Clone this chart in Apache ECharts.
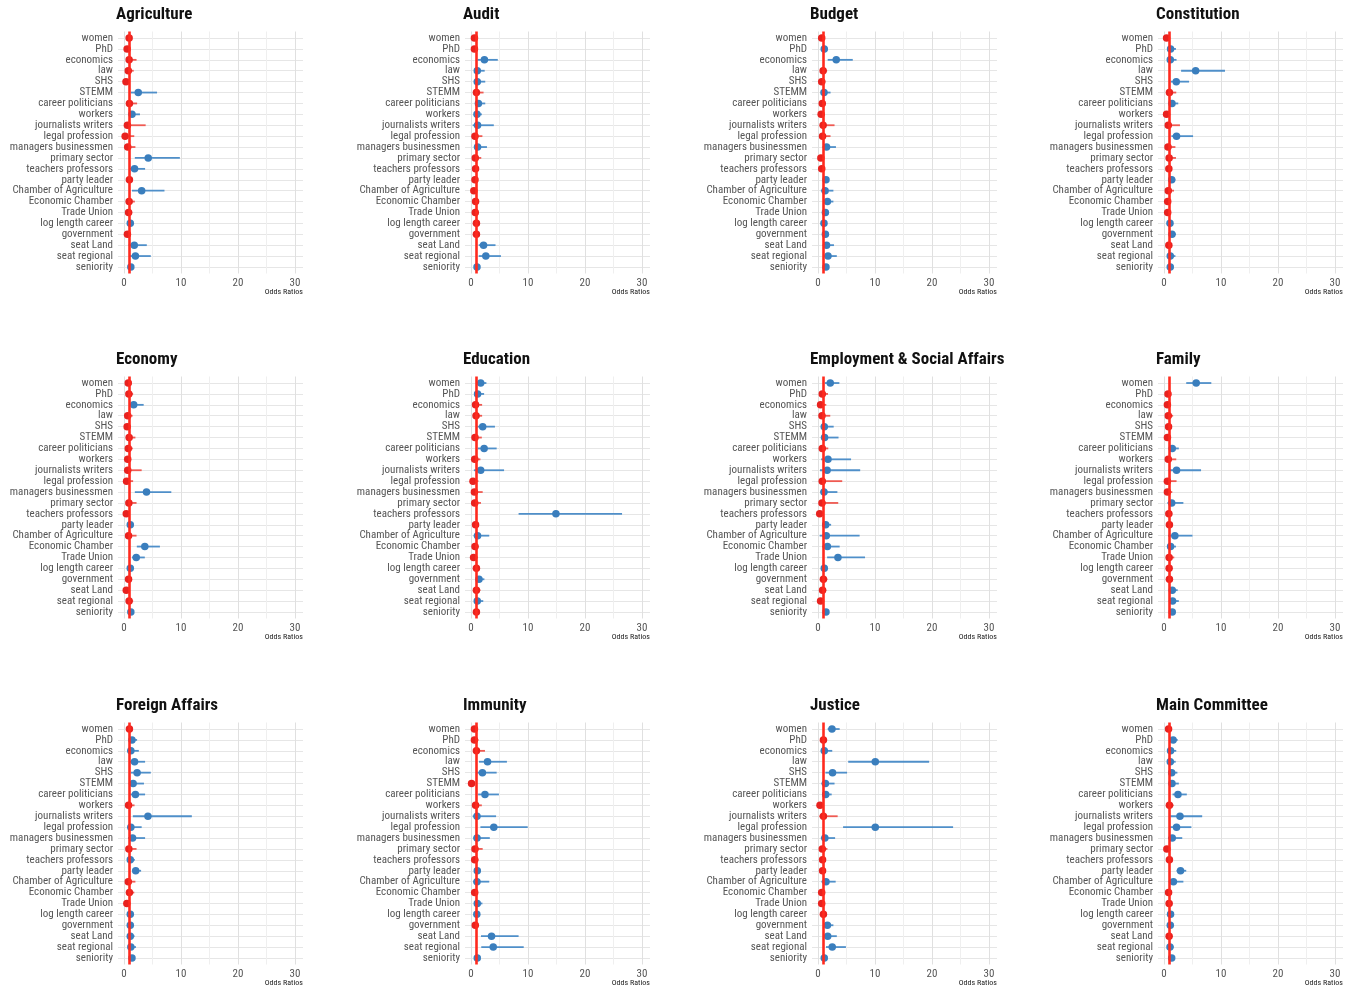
<!DOCTYPE html>
<html><head><meta charset="utf-8">
<script src="https://cdn.jsdelivr.net/npm/echarts@6/dist/echarts.min.js"></script>
<style>html,body{margin:0;padding:0;background:#fff}#c{width:1346px;height:990px}</style>
</head><body><div id="c"></div>
<script>
const categories = ['women','PhD','economics','law','SHS','STEMM','career politicians','workers','journalists writers','legal profession','managers businessmen','primary sector','teachers professors','party leader','Chamber of Agriculture','Economic Chamber','Trade Union','log length career','government','seat Land','seat regional','seniority'];
const panelTitles = ['Agriculture','Audit','Budget','Constitution','Economy','Education','Employment & Social Affairs','Family','Foreign Affairs','Immunity','Justice','Main Committee'];
const xTickLabels = [0,10,20,30];
const xGridValues = [0,5,10,15,20,25,30];
const referenceValue = 1;
const xAxisName = 'Odds Ratios';

// each row: [odds ratio, lower CI, upper CI], in category order
const agriculture = [[0.9,0.6,1.4],[0.55,0.3,1.0],[0.9,0.4,2.2],[0.75,0.35,1.7],[0.35,0.15,0.95],[2.5,1.2,5.8],[0.95,0.45,2.3],[1.4,0.8,2.8],[0.6,0.1,3.8],[0.2,0.05,1.8],[0.65,0.2,2.0],[4.25,1.9,9.8],[1.85,1.0,3.7],[0.95,0.65,1.3],[3.1,1.4,7.1],[0.9,0.45,1.9],[0.8,0.45,1.45],[1.1,0.9,1.3],[0.6,0.3,1.2],[1.8,0.8,4.0],[2.0,0.9,4.7],[1.2,1.0,1.5]];
const audit = [[0.6,0.35,1.0],[0.6,0.35,1.05],[2.35,1.15,4.7],[1.1,0.55,2.4],[1.1,0.5,2.5],[0.95,0.4,2.2],[1.3,0.7,2.5],[1.05,0.6,1.9],[1.15,0.3,4.0],[0.7,0.25,2.0],[1.15,0.5,2.8],[0.75,0.3,1.8],[0.8,0.5,1.25],[0.7,0.45,1.1],[0.5,0.25,1.0],[0.8,0.5,1.3],[0.75,0.45,1.25],[0.95,0.8,1.15],[0.95,0.6,1.4],[2.2,1.35,4.3],[2.6,1.35,5.25],[1.05,0.9,1.25]];
const budget = [[0.65,0.4,1.05],[1.1,0.7,1.7],[3.2,1.7,6.1],[0.9,0.5,1.6],[0.65,0.3,1.3],[1.05,0.5,2.2],[0.75,0.4,1.3],[0.55,0.3,1.1],[0.9,0.3,2.9],[0.8,0.3,2.2],[1.5,0.8,3.15],[0.5,0.25,1.0],[0.65,0.4,1.05],[1.4,1.05,1.9],[1.25,0.5,2.7],[1.65,1.05,2.7],[1.3,0.9,1.9],[1.05,0.85,1.3],[1.3,0.9,1.8],[1.5,0.85,2.8],[1.75,1.0,3.3],[1.4,1.1,1.7]];
const constitution = [[0.45,0.2,1.05],[1.15,0.6,2.1],[1.1,0.55,2.2],[5.55,3.0,10.7],[2.15,1.2,4.4],[0.95,0.45,2.15],[1.4,0.8,2.5],[0.45,0.2,1.0],[0.75,0.2,2.8],[2.2,1.3,5.1],[0.7,0.25,2.0],[0.9,0.4,2.1],[0.85,0.5,1.4],[1.35,0.9,2.0],[0.75,0.3,1.75],[0.65,0.35,1.2],[0.65,0.35,1.2],[1.05,0.85,1.3],[1.4,0.9,2.1],[0.85,0.5,1.4],[1.1,0.6,2.0],[1.1,0.9,1.35]];
const economy = [[0.75,0.45,1.2],[0.85,0.45,1.6],[1.7,0.9,3.45],[0.65,0.3,1.5],[0.55,0.25,1.2],[0.9,0.4,2.0],[0.75,0.4,1.55],[0.65,0.35,1.2],[0.65,0.15,3.1],[0.45,0.15,1.6],[3.95,1.9,8.3],[0.85,0.35,2.2],[0.4,0.15,1.05],[1.1,0.8,1.5],[0.8,0.3,2.2],[3.65,2.25,6.3],[2.15,1.4,3.65],[1.1,0.9,1.35],[0.8,0.45,1.4],[0.4,0.15,1.0],[0.9,0.5,1.6],[1.2,0.85,1.75]];
const education = [[1.7,1.1,2.7],[1.15,0.6,2.3],[0.8,0.35,1.95],[0.88,0.4,1.95],[2.05,1.1,4.2],[0.7,0.25,1.9],[2.3,1.2,4.5],[0.65,0.25,1.65],[1.7,0.5,5.8],[0.35,0.1,1.3],[0.6,0.2,2.05],[0.65,0.25,1.75],[14.9,8.35,26.5],[0.8,0.55,1.15],[1.15,0.45,3.2],[0.7,0.35,1.35],[0.45,0.15,1.2],[0.95,0.8,1.15],[1.4,0.85,2.35],[0.95,0.55,1.65],[1.1,0.55,2.15],[0.95,0.75,1.2]];
const employment = [[2.15,1.2,3.75],[0.75,0.3,1.75],[0.45,0.15,1.45],[0.7,0.25,2.15],[1.1,0.5,2.75],[1.15,0.5,3.6],[0.75,0.3,1.8],[1.75,0.55,5.8],[1.6,0.35,7.4],[0.75,0.15,4.25],[1.05,0.4,3.4],[0.7,0.15,3.55],[0.3,0.1,0.9],[1.35,0.8,2.3],[1.45,0.3,7.3],[1.65,0.7,3.8],[3.5,1.6,8.25],[1.1,0.85,1.4],[0.95,0.55,1.65],[0.8,0.45,1.45],[0.45,0.2,1.0],[1.4,1.1,1.8]];
const family = [[5.65,3.9,8.3],[0.7,0.4,1.2],[0.6,0.3,1.15],[0.75,0.35,1.6],[0.8,0.45,1.4],[0.6,0.3,1.2],[1.45,0.8,2.6],[0.75,0.25,2.15],[2.2,0.8,6.5],[0.6,0.15,2.2],[0.6,0.25,1.45],[1.35,0.6,3.4],[0.85,0.5,1.45],[0.95,0.65,1.4],[1.9,0.7,5.0],[1.15,0.6,2.1],[0.9,0.45,1.8],[0.9,0.75,1.1],[0.95,0.6,1.45],[1.45,0.85,2.4],[1.5,0.85,2.6],[1.45,1.1,1.9]];
const foreignAffairs = [[0.95,0.65,1.4],[1.4,0.8,2.3],[1.2,0.55,2.6],[1.85,1.0,3.7],[2.3,1.2,4.7],[1.6,0.8,3.5],[2.0,1.1,3.7],[0.8,0.35,1.85],[4.2,1.55,11.9],[1.2,0.6,3.1],[1.5,0.7,3.7],[0.85,0.35,2.2],[1.1,0.6,1.9],[2.05,1.45,3.0],[0.75,0.3,2.0],[0.95,0.5,1.8],[0.5,0.2,1.0],[1.1,0.9,1.35],[1.1,0.75,1.6],[1.1,0.65,1.85],[1.2,0.7,2.1],[1.4,1.05,1.85]];
const immunity = [[0.6,0.35,1.05],[0.6,0.3,1.3],[0.95,0.4,2.45],[2.9,1.4,6.3],[2.0,0.95,4.5],[0.1,0.02,0.5],[2.45,1.25,4.9],[0.8,0.35,1.9],[1.05,0.3,4.4],[4.0,1.65,9.95],[1.05,0.4,3.3],[0.7,0.25,2.05],[0.65,0.3,1.3],[1.1,0.7,1.7],[1.05,0.4,3.2],[0.65,0.35,1.2],[1.1,0.6,2.0],[1.02,0.85,1.25],[0.75,0.45,1.25],[3.6,1.75,8.35],[3.9,1.8,9.25],[1.1,0.85,1.45]];
const justice = [[2.45,1.7,3.8],[0.95,0.55,1.6],[1.1,0.5,2.5],[10.05,5.3,19.5],[2.55,1.3,5.1],[1.3,0.6,2.9],[1.35,0.75,2.4],[0.35,0.1,0.9],[0.95,0.25,3.45],[10.05,4.4,23.7],[1.2,0.5,3.0],[0.75,0.35,1.65],[0.8,0.45,1.4],[0.8,0.5,1.25],[1.4,0.6,3.1],[0.65,0.35,1.15],[0.65,0.35,1.15],[0.95,0.8,1.15],[1.65,1.1,2.7],[1.7,0.9,3.3],[2.5,1.4,4.9],[1.1,0.9,1.35]];
const mainCommittee = [[0.8,0.55,1.2],[1.6,1.05,2.4],[1.15,0.6,2.15],[1.1,0.6,2.05],[1.35,0.75,2.35],[1.4,0.75,2.6],[2.45,1.5,4.0],[0.95,0.5,1.7],[2.8,1.1,6.7],[2.2,1.1,4.8],[1.45,0.7,3.2],[0.5,0.2,1.05],[0.95,0.6,1.5],[2.9,2.2,3.9],[1.65,0.8,3.4],[0.8,0.5,1.3],[0.9,0.55,1.45],[1.15,0.95,1.4],[1.1,0.75,1.6],[0.9,0.55,1.45],[1.05,0.65,1.7],[1.35,1.05,1.7]];

const panels = [agriculture, audit, budget, constitution, economy, education, employment, family, foreignAffairs, immunity, justice, mainCommittee];

// layout
const W = 1346;
const colZeroX = [124, 471, 818, 1164];
const rowTop = [31.5, 376.5, 722.5];
const pxPerUnit = 5.7;
const xMin = -1.05, xMax = 31.4;
const gridW = (xMax - xMin) * pxPerUnit;
const gridH = 242;
const BLUE = '#3A7EBD', RED = '#E8221F';
const BLUE_CI = '#4F8FC9', RED_CI = '#EF5A52';
const LABEL_FONT = "'Liberation Sans Narrow','Roboto Condensed','DejaVu Sans Condensed',Roboto,sans-serif";

const idx = categories.map((_, i) => i);
const grid = [], xAxis = [], yAxis = [], series = [], title = [];
panels.forEach((rows, p) => {
  const c = p % 4, r = Math.floor(p / 4);
  const left = colZeroX[c] + xMin * pxPerUnit;
  grid.push({left: left, top: rowTop[r], width: gridW, height: gridH, containLabel: false});
  title.push({text: panelTitles[p], left: left - 2, top: rowTop[r] - 25.5, padding: 0,
    textStyle: {fontSize: 17, fontWeight: 'bold', color: '#111', fontFamily: LABEL_FONT}});
  title.push({text: xAxisName, right: W - (left + gridW), top: rowTop[r] + gridH + 14, padding: 0,
    textStyle: {fontSize: 8, fontWeight: 'normal', color: '#222', fontFamily: LABEL_FONT}});
  xAxis.push({type: 'value', gridIndex: p, min: xMin, max: xMax,
    axisLine: {show: false},
    axisTick: {show: false, customValues: xGridValues},
    axisLabel: {customValues: xTickLabels, fontSize: 11, color: '#555', margin: 4, fontFamily: LABEL_FONT},
    splitLine: {show: true, lineStyle: {color: ['#e0e0e0', '#efefef'], width: 1}}
  });
  yAxis.push({type: 'value', gridIndex: p, min: -0.6, max: categories.length - 0.4, inverse: true,
    axisLine: {show: false},
    axisTick: {show: false, customValues: idx},
    axisLabel: {customValues: idx, formatter: v => categories[Math.round(v)] || '', fontSize: 11, color: '#555', margin: 5, fontFamily: LABEL_FONT},
    splitLine: {show: true, lineStyle: {color: '#e6e6e6', width: 1}}
  });
  const ci = rows.map((d, i) => [d[0], d[1], d[2], i]);
  series.push({type: 'custom', xAxisIndex: p, yAxisIndex: p, z: 2, silent: true,
    data: ci, encode: {x: [1, 2], y: 3},
    renderItem: (params, api) => {
      const a = api.coord([api.value(1), api.value(3)]);
      const b = api.coord([api.value(2), api.value(3)]);
      return {type: 'line', shape: {x1: a[0], y1: a[1], x2: b[0], y2: b[1]},
        style: {stroke: api.value(0) < referenceValue ? RED_CI : BLUE_CI, lineWidth: 1.8}};
    }
  });
  series.push({type: 'scatter', xAxisIndex: p, yAxisIndex: p, z: 3, silent: true, data: [],
    markLine: {silent: true, symbol: 'none', label: {show: false},
      lineStyle: {color: '#FF2A1E', width: 2.6, type: 'solid'},
      data: [{xAxis: referenceValue}]}
  });
  series.push({type: 'scatter', xAxisIndex: p, yAxisIndex: p, z: 4, silent: true,
    symbolSize: 7.5,
    data: rows.map((d, i) => [d[0], i]),
    itemStyle: {opacity: 1, color: params => params.value[0] < referenceValue ? RED : BLUE}
  });
});

const chart = echarts.init(document.getElementById('c'), null, {renderer: 'canvas'});
chart.setOption({animation: false, backgroundColor: '#fff', title, grid, xAxis, yAxis, series});
</script></body></html>
